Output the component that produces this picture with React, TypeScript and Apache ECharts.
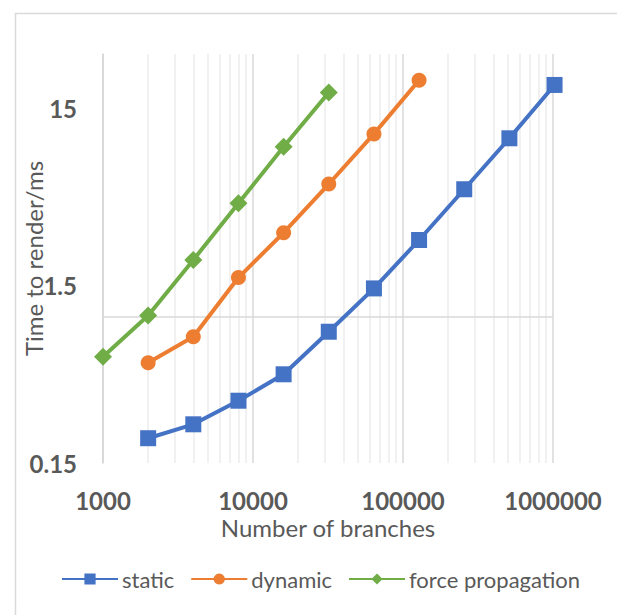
import React, { useEffect, useRef } from "react";
import * as echarts from "echarts";

const branchesStatic = [2000, 4000, 8000, 16000, 32000, 64000, 128000, 256000, 512000, 1024000];
const timeStatic = [0.207, 0.248, 0.337, 0.475, 0.826, 1.45, 2.72, 5.26, 10.2, 20.4];

const branchesDynamic = [2000, 4000, 8000, 16000, 32000, 64000, 128000];
const timeDynamic = [0.552, 0.774, 1.67, 2.99, 5.63, 10.8, 21.7];

const branchesForce = [1000, 2000, 4000, 8000, 16000, 32000];
const timeForce = [0.597, 1.02, 2.1, 4.38, 9.14, 18.5];

const xTicks = [1000, 10000, 100000, 1000000];
const yTicks = [0.15, 1.5, 15];
const xMinorGrid = [2000, 3000, 4000, 5000, 6000, 7000, 8000, 9000,
  20000, 30000, 40000, 50000, 60000, 70000, 80000, 90000,
  200000, 300000, 400000, 500000, 600000, 700000, 800000, 900000];
const xAxisCrossesAt = 1;

const seriesNames = ["static", "dynamic", "force propagation"];

const FONT = "Lato, 'Noto Sans', sans-serif";
const GRAY = "#595959";

export default function App() {
  const ref = useRef<HTMLDivElement>(null);

  useEffect(() => {
    if (!ref.current) return;
    const chart = echarts.init(ref.current, undefined, { renderer: "svg" });
    const pair = (xs: number[], ys: number[]) => xs.map((x, i) => [x, ys[i]]);

    chart.setOption({
      animation: false,
      backgroundColor: "#ffffff",
      textStyle: { fontFamily: FONT },
      graphic: [
        {
          type: "rect",
          left: 13,
          top: 11,
          shape: { width: 640, height: 640 },
          style: { fill: "none", stroke: "#d9d9d9", lineWidth: 1.5 },
          silent: true,
        },
      ],
      grid: { left: 103, right: 64, top: 54, bottom: 152, containLabel: false, outerBoundsMode: "none" },
      legend: {
        data: seriesNames,
        bottom: 20,
        left: 56,
        itemWidth: 56,
        itemHeight: 14,
        itemGap: 16,
        textStyle: { fontFamily: FONT, fontSize: 22, color: GRAY, padding: [0, 0, 0, -1] },
      },
      xAxis: {
        type: "log",
        logBase: 10,
        min: 1000,
        max: 1000000,
        name: "Number of branches",
        nameLocation: "middle",
        nameGap: 52,
        nameMoveOverlap: false,
        nameTextStyle: { fontFamily: FONT, fontSize: 24, color: GRAY },
        axisLine: { show: false },
        axisTick: { show: false },
        axisLabel: {
          customValues: xTicks,
          fontFamily: FONT,
          fontSize: 24,
          fontWeight: "bold",
          color: GRAY,
          margin: 25,
          formatter: (v: number) => String(Math.round(v)),
        },
        splitLine: { show: true, lineStyle: { color: "#d9d9d9", width: 1.5 } },
      },
      yAxis: {
        type: "log",
        logBase: 10,
        min: 0.15,
        max: 30.5,
        name: "Time to render/ms",
        nameLocation: "middle",
        nameGap: 58,
        nameMoveOverlap: false,
        nameTextStyle: { fontFamily: FONT, fontSize: 24, color: GRAY },
        axisLine: { show: true, lineStyle: { color: "#d9d9d9", width: 1.5 } },
        axisTick: { show: false },
        axisLabel: {
          customValues: yTicks,
          fontFamily: FONT,
          fontSize: 24,
          fontWeight: "bold",
          color: GRAY,
          margin: 26,
          formatter: (v: number) => String(Number(v.toPrecision(3))),
        },
        splitLine: { show: false },
      },
      series: [
        {
          name: "__grid",
          type: "line",
          data: [],
          silent: true,
          z: 0,
          markLine: {
            silent: true,
            symbol: "none",
            label: { show: false },
            animation: false,
            z: 0,
            data: [
              ...xMinorGrid.map((v) => ({ xAxis: v, lineStyle: { color: "#ededed", width: 1.5, type: "solid" } })),
              { yAxis: xAxisCrossesAt, lineStyle: { color: "#d9d9d9", width: 1.5, type: "solid" } },
            ],
          },
        },
        {
          name: seriesNames[0],
          type: "line",
          data: pair(branchesStatic, timeStatic),
          symbol: "rect",
          symbolSize: 16,
          clip: false,
          color: "#4472C4",
          lineStyle: { width: 4, color: "#4472C4" },
          itemStyle: { color: "#4472C4" },
          z: 10,
        },
        {
          name: seriesNames[1],
          type: "line",
          data: pair(branchesDynamic, timeDynamic),
          symbol: "circle",
          symbolSize: 15,
          color: "#ED7D31",
          lineStyle: { width: 4, color: "#ED7D31" },
          itemStyle: { color: "#ED7D31" },
          z: 10,
        },
        {
          name: seriesNames[2],
          type: "line",
          data: pair(branchesForce, timeForce),
          symbol: "diamond",
          symbolSize: 18,
          clip: false,
          color: "#70AD47",
          lineStyle: { width: 4, color: "#70AD47" },
          itemStyle: { color: "#70AD47" },
          z: 10,
        },
      ],
    });
    return () => chart.dispose();
  }, []);

  return (
    <div
      ref={ref}
      style={{ position: "fixed", left: 0, top: 0, width: 617, height: 615, background: "#fff" }}
    />
  );
}
